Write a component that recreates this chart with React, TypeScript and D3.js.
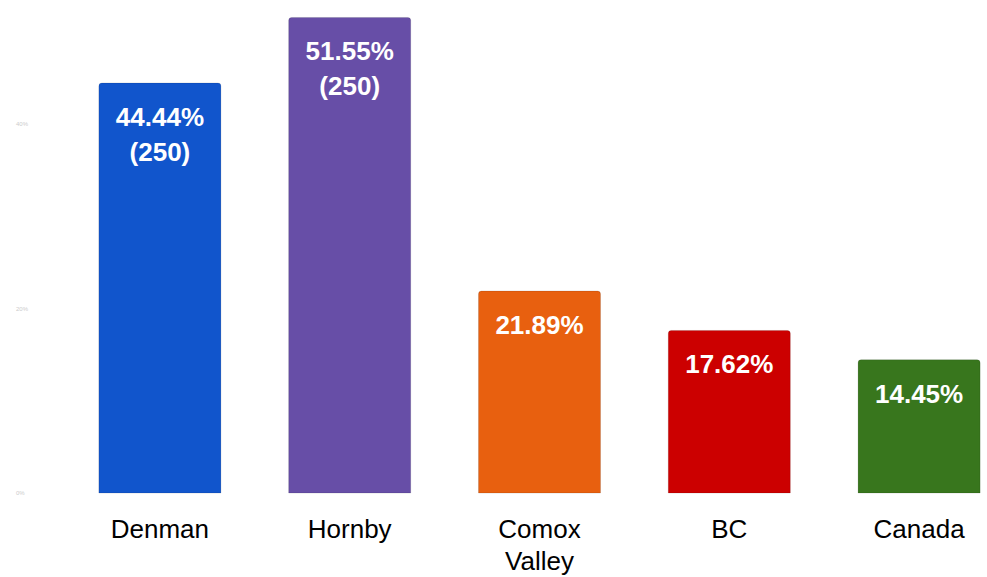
import React from "react";
import * as d3 from "d3";

const categories: string[][] = [["Denman"], ["Hornby"], ["Comox", "Valley"], ["BC"], ["Canada"]];
const values: number[] = [44.44, 51.55, 21.89, 17.62, 14.45];
const counts: (string | null)[] = ["(250)", "(250)", null, null, null];
const colors: string[] = ["#1155cc", "#674ea7", "#e8600f", "#cc0000", "#38761d"];
const tickValues: number[] = [0, 20, 40];

const W = 987;
const H = 577;

export default function App() {
  const keys = categories.map((c) => c.join(" "));
  const x = d3.scaleBand<string>().domain(keys).range([65, 1014]).paddingInner(0.357).paddingOuter(0.1785);
  const y = d3.scaleLinear().domain([0, 40]).range([493, 124]);
  const bw = x.bandwidth();
  const r = 3;
  const barPath = (x0: number, y0: number, w: number, h: number) => {
    const p = d3.path();
    p.moveTo(x0, y0 + h);
    p.lineTo(x0, y0 + r);
    p.arcTo(x0, y0, x0 + r, y0, r);
    p.lineTo(x0 + w - r, y0);
    p.arcTo(x0 + w, y0, x0 + w, y0 + r, r);
    p.lineTo(x0 + w, y0 + h);
    p.closePath();
    return p.toString();
  };
  const font = "Arial, Liberation Sans, sans-serif";
  return (
    <svg width={W} height={H} style={{ position: "absolute", left: 0, top: 0, display: "block" }}>
      <rect width={W} height={H} fill="#ffffff" />
      {tickValues.map((t) => (
        <text key={t} x={16} y={y(t) + 2} fontSize={6} fill="#cccccc" fontFamily={font}>
          {t}%
        </text>
      ))}
      {values.map((v, i) => {
        const x0 = x(keys[i])!;
        const top = y(v);
        const cx = x0 + bw / 2;
        return (
          <g key={keys[i]}>
            <path d={barPath(x0, top, bw, y(0) - top)} fill={colors[i]} stroke="#000" strokeOpacity={0.12} strokeWidth={1} />
            <text x={cx} y={top + 43} textAnchor="middle" fill="#fff" fontWeight="bold" fontSize={26} fontFamily={font}>
              {v.toFixed(2)}%
            </text>
            {counts[i] && (
              <text x={cx} y={top + 78} textAnchor="middle" fill="#fff" fontWeight="bold" fontSize={26} fontFamily={font}>
                {counts[i]}
              </text>
            )}
            {categories[i].map((line, j) => (
              <text key={j} x={cx} y={538 + j * 32} textAnchor="middle" fill="#000" fontSize={26} fontFamily={font}>
                {line}
              </text>
            ))}
          </g>
        );
      })}
    </svg>
  );
}
